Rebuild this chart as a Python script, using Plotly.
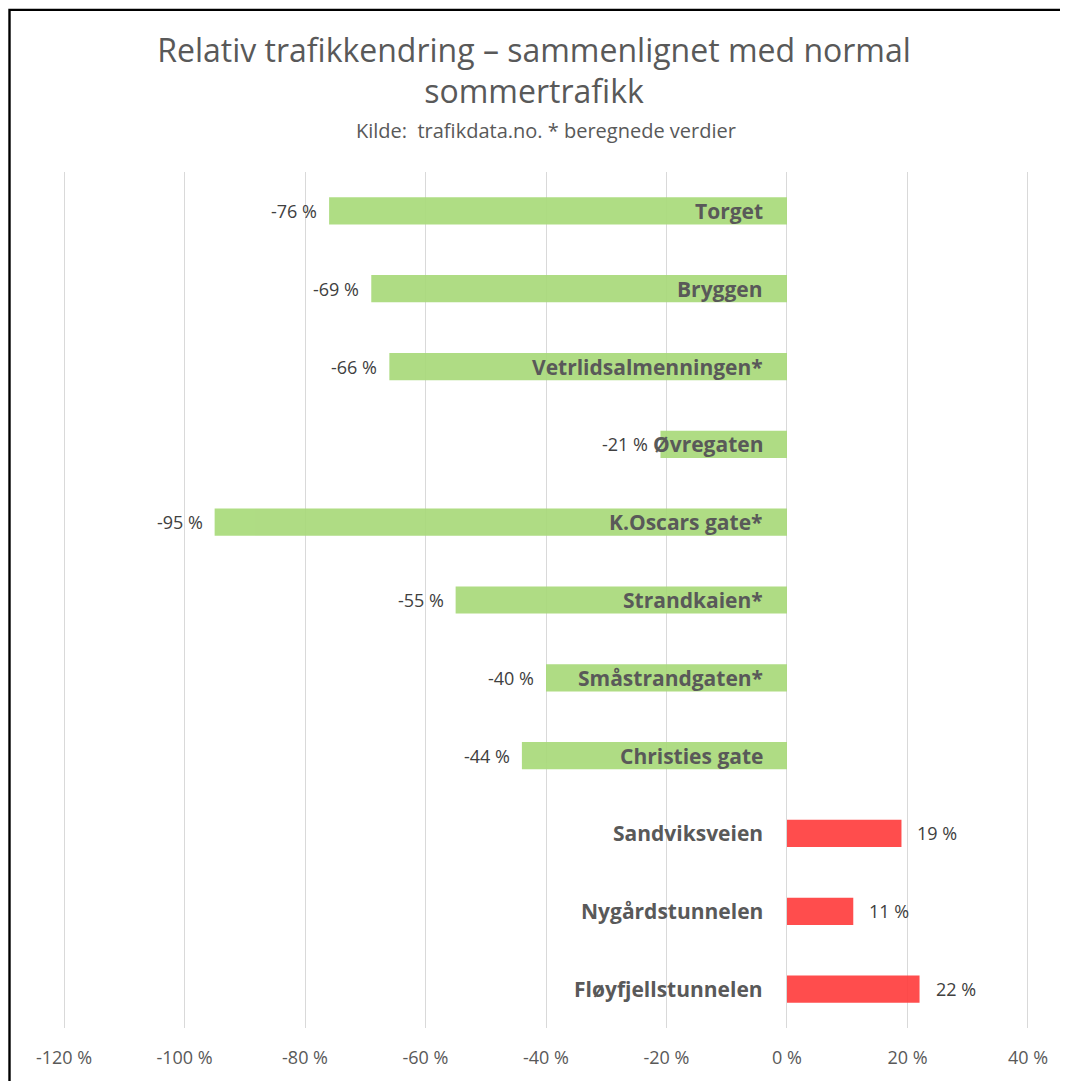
import plotly.graph_objects as go

categories = ["Torget", "Bryggen", "Vetrlidsalmenningen*", "Øvregaten", "K.Oscars gate*",
              "Strandkaien*", "Småstrandgaten*", "Christies gate", "Sandviksveien",
              "Nygårdstunnelen", "Fløyfjellstunnelen"]
values = [-76, -69, -66, -21, -95, -55, -40, -44, 19, 11, 22]
tick_vals = [-120, -100, -80, -60, -40, -20, 0, 20, 40]
tick_text = ["-120 %", "-100 %", "-80 %", "-60 %", "-40 %", "-20 %", "0 %", "20 %", "40 %"]

GREEN = "rgba(169,218,123,1)"
RED = "rgba(255,64,64,1)"
colors = [GREEN if v < 0 else RED for v in values]
FONT = "Open Sans"

W, H = 1060, 1073
L, R, T, B = 53, 37, 164, 51
PW, PH = W - L - R, H - T - B

fig = go.Figure()
fig.add_trace(go.Bar(
    x=values, y=categories, orientation="h",
    marker=dict(color=colors, line=dict(width=0)),
    width=0.35, opacity=0.93, hoverinfo="skip",
))

annotations = []
for c, v in zip(categories, values):
    annotations.append(dict(
        x=0, y=c, xref="x", yref="y", text="<b>%s</b>" % c, showarrow=False,
        xanchor="right", xshift=-22, font=dict(family=FONT, size=21, color="#595959")))
    annotations.append(dict(
        x=v, y=c, xref="x", yref="y", text="%d %%" % v, showarrow=False,
        xanchor="right" if v < 0 else "left", xshift=-10 if v < 0 else 14,
        font=dict(family=FONT, size=18, color="#404040")))

annotations.append(dict(
    x=0.5, y=(PH + T - 122) / PH, xref="paper", yref="paper", yanchor="middle",
    text="Kilde:  trafikdata.no. * beregnede verdier",
    showarrow=False, font=dict(family=FONT, size=20, color="#595959")))

fig.update_layout(
    width=W, height=H,
    margin=dict(l=L, r=R, t=T, b=B),
    paper_bgcolor="white", plot_bgcolor="white",
    showlegend=False,
    title=dict(
        text="Relativ trafikkendring – sammenlignet med normal<br>sommertrafikk",
        x=(1068 / 2 - 8) / W, xanchor="center", y=1 - 53.5 / H, yanchor="middle",
        font=dict(family=FONT, size=32, color="#595959")),
    xaxis=dict(range=[-120.5, 40.5], tickvals=tick_vals, ticktext=tick_text,
               showgrid=True, gridcolor="#d9d9d9", gridwidth=1.3,
               zeroline=False, showline=False,
               ticks="outside", ticklen=13, tickcolor="rgba(0,0,0,0)",
               tickfont=dict(family=FONT, size=18, color="#595959")),
    yaxis=dict(autorange="reversed", showticklabels=False, showgrid=False,
               zeroline=False, showline=False),
    annotations=annotations,
    shapes=[dict(type="rect", xref="paper", yref="paper",
                 x0=(1.5 - L) / PW, x1=(W + 20 - L) / PW,
                 y0=(PH + T - (H + 20)) / PH, y1=(PH + T - 1.5) / PH,
                 line=dict(color="black", width=2.4), fillcolor="rgba(0,0,0,0)")],
)

fig.write_html("out.html")
